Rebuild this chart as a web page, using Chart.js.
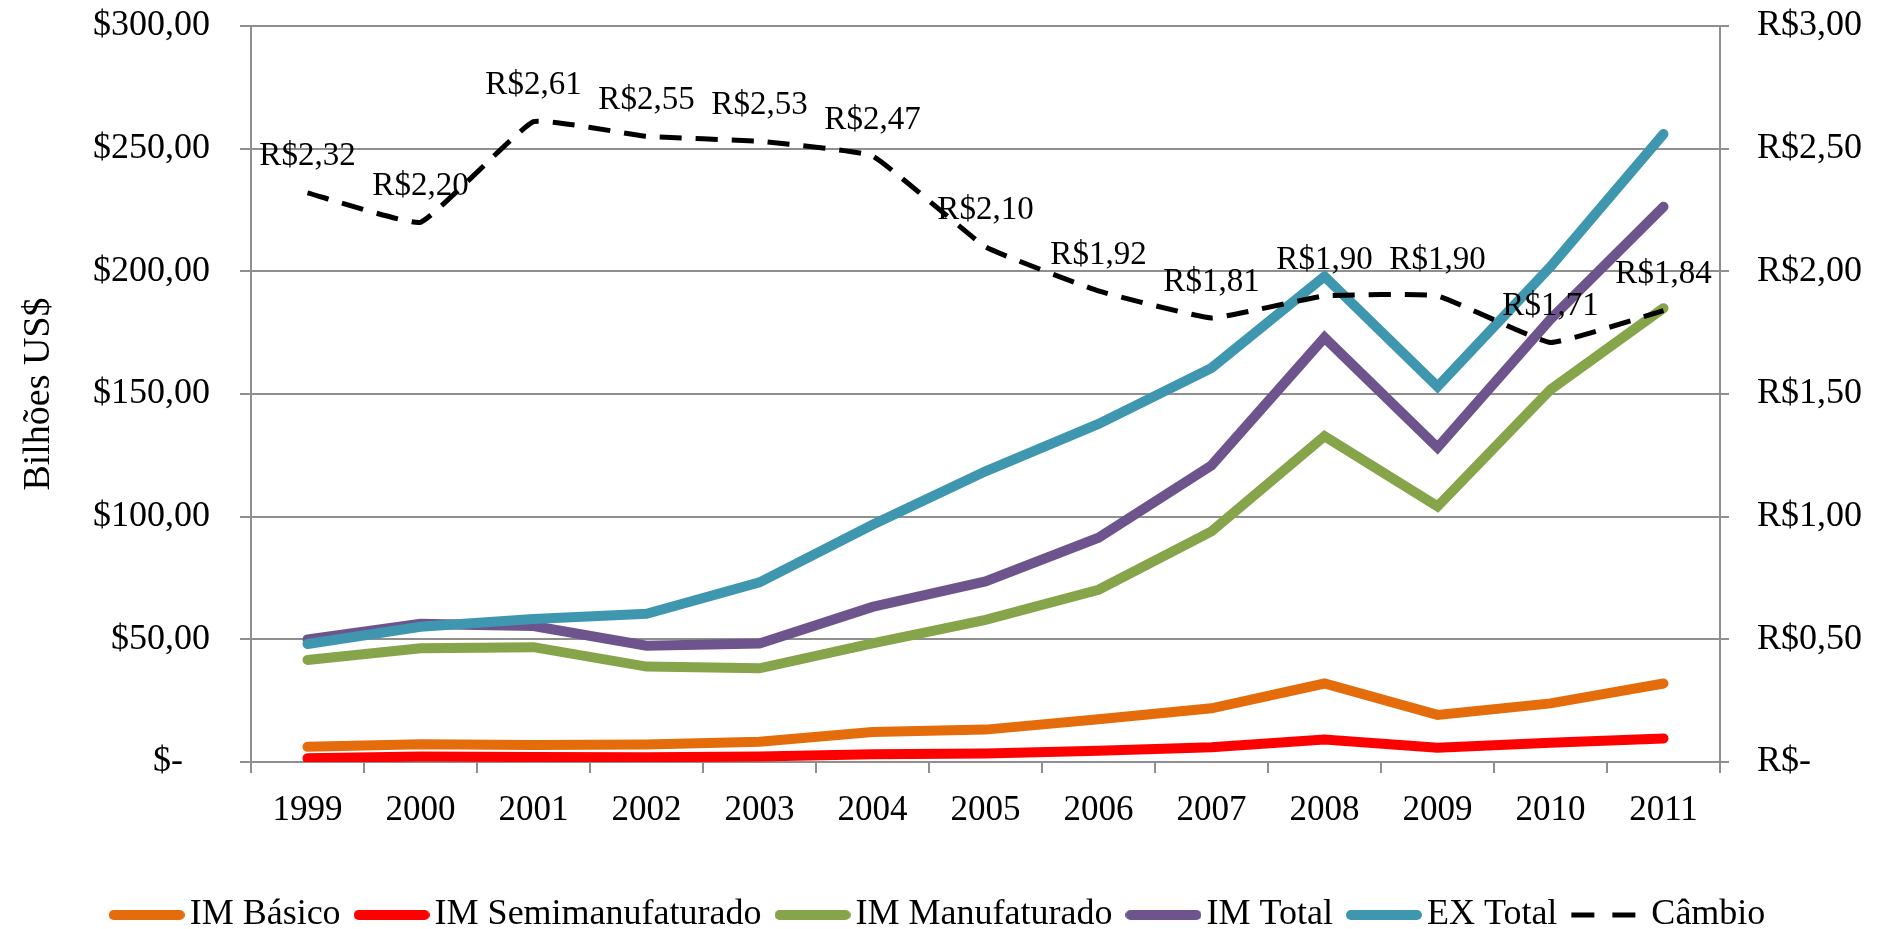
<!DOCTYPE html>
<html>
<head>
<meta charset="utf-8">
<script src="https://cdn.jsdelivr.net/npm/chart.js@4/dist/chart.umd.min.js"></script>
<style>
  html, body { margin: 0; padding: 0; background: #fff; }
  #wrap { width: 1887px; height: 929px; position: relative; }
</style>
</head>
<body>
<div id="wrap"><canvas id="tradeChart"></canvas></div>
<script>
// anos
const years = ['1999', '2000', '2001', '2002', '2003', '2004', '2005', '2006', '2007', '2008', '2009', '2010', '2011'];

// bilhões US$
const imBasico = [6.2, 7.2, 6.9, 7.1, 8.3, 12.2, 13.2, 17.4, 21.9, 32.0, 19.2, 23.9, 32.0];
const imSemi = [1.5, 2.2, 2.0, 1.9, 2.2, 3.2, 3.5, 4.6, 6.0, 9.2, 5.8, 7.8, 9.6];
const imManuf = [41.6, 46.4, 46.8, 38.9, 38.2, 48.4, 57.9, 70.2, 94.0, 132.8, 104.2, 151.8, 185.0];
const imTotal = [50.0, 56.3, 55.4, 47.4, 48.3, 63.2, 73.6, 91.4, 120.9, 173.0, 128.2, 180.5, 226.3];
const exTotal = [48.1, 55.1, 58.3, 60.4, 73.2, 96.7, 118.5, 137.8, 160.6, 197.9, 153.0, 201.9, 256.0];

// câmbio R$/US$
const cambio = [2.32, 2.20, 2.61, 2.55, 2.53, 2.47, 2.10, 1.92, 1.81, 1.90, 1.90, 1.71, 1.84];

const serif = 'Liberation Serif, "Times New Roman", serif';

function brl(v) {
  return v.toFixed(2).replace('.', ',');
}

// amostra da legenda desenhada num canvas pequeno (linha cheia ou tracejada)
function legendSample(color, width, dashed) {
  const c = document.createElement('canvas');
  c.width = 76;
  c.height = 12;
  const g = c.getContext('2d');
  g.strokeStyle = color;
  g.lineWidth = width;
  g.beginPath();
  if (dashed) {
    g.lineCap = 'butt';
    g.moveTo(1, 6); g.lineTo(24, 6);
    g.moveTo(42, 6); g.lineTo(65, 6);
  } else {
    g.lineCap = 'round';
    g.moveTo(5, 6); g.lineTo(71, 6);
  }
  g.stroke();
  return c;
}

// rótulos do câmbio acima de cada ponto
const cambioLabels = {
  id: 'cambioLabels',
  afterDatasetsDraw(chart) {
    const ctx = chart.ctx;
    const idx = chart.data.datasets.findIndex(d => d.label === 'Câmbio');
    const meta = chart.getDatasetMeta(idx);
    ctx.save();
    ctx.font = '33px ' + serif;
    ctx.fillStyle = '#000';
    ctx.textAlign = 'center';
    ctx.textBaseline = 'middle';
    meta.data.forEach((pt, i) => {
      ctx.fillText('R$' + brl(cambio[i]), pt.x, pt.y - 36);
    });
    ctx.restore();
  }
};

function line(label, data, color, order) {
  return {
    label: label,
    data: data,
    borderColor: color,
    backgroundColor: color,
    borderWidth: 10,
    borderCapStyle: 'round',
    borderJoinStyle: 'miter',
    pointRadius: 0,
    tension: 0,
    fill: false,
    yAxisID: 'y',
    order: order
  };
}

// fixa largura do eixo e a margem de topo
function fixY(width) {
  return function(scale) {
    scale.width = width;
    scale.paddingTop = 26;
    scale.paddingBottom = 0;
  };
}

const ctx = document.getElementById('tradeChart').getContext('2d');
new Chart(ctx, {
  type: 'line',
  data: {
    labels: years,
    datasets: [
      line('IM Básico', imBasico, '#E46C0A', 5),
      line('IM Semimanufaturado', imSemi, '#FF0000', 4),
      line('IM Manufaturado', imManuf, '#86A44A', 3),
      line('IM Total', imTotal, '#6E548D', 2),
      line('EX Total', exTotal, '#3F97AF', 1),
      {
        label: 'Câmbio',
        data: cambio,
        borderColor: '#000',
        backgroundColor: '#000',
        borderWidth: 5,
        borderDash: [22, 14],
        borderCapStyle: 'butt',
        pointRadius: 0,
        tension: 0.1,
        fill: false,
        yAxisID: 'y1',
        order: 0
      }
    ]
  },
  options: {
    responsive: true,
    maintainAspectRatio: false,
    animation: false,
    layout: { padding: { top: 0, left: 0, right: 0, bottom: -14 } },
    plugins: {
      tooltip: { enabled: false },
      legend: {
        position: 'bottom',
        labels: {
          usePointStyle: true,
          pointStyleWidth: 50,
          padding: 26,
          color: '#000',
          font: { family: serif, size: 36 },
          generateLabels: chart => chart.data.datasets.map((ds, i) => ({
            text: ds.label,
            datasetIndex: i,
            hidden: false,
            fontColor: '#000',
            fillStyle: ds.borderColor,
            strokeStyle: ds.borderColor,
            lineWidth: 0,
            pointStyle: legendSample(ds.borderColor, ds.borderWidth, !!ds.borderDash)
          }))
        }
      }
    },
    scales: {
      x: {
        offset: true,
        grid: {
          offset: true,
          drawOnChartArea: false,
          color: '#8f8f8f',
          lineWidth: 2,
          tickLength: 11
        },
        border: { color: '#8f8f8f', width: 2 },
        ticks: {
          color: '#000',
          padding: 17,
          font: { family: serif, size: 35 }
        },
        afterFit(scale) { scale.height = 109; }
      },
      y: {
        position: 'left',
        min: 0,
        max: 300,
        ticks: {
          stepSize: 50,
          color: '#000',
          padding: 30,
          font: { family: serif, size: 36 },
          callback: v => v === 0 ? '$-   ' : '$' + brl(v)
        },
        grid: { color: '#8f8f8f', lineWidth: 2, tickLength: 11 },
        border: { color: '#8f8f8f', width: 2 },
        title: {
          display: true,
          text: 'Bilhões US$',
          color: '#000',
          padding: { top: 16, bottom: 0 },
          font: { family: serif, size: 38 }
        },
        afterFit: fixY(251)
      },
      y1: {
        position: 'right',
        min: 0,
        max: 3,
        ticks: {
          stepSize: 0.5,
          color: '#000',
          padding: 28,
          font: { family: serif, size: 36 },
          callback: v => v === 0 ? 'R$-' : 'R$' + brl(v)
        },
        grid: { drawOnChartArea: false, color: '#8f8f8f', lineWidth: 2, tickLength: 9 },
        border: { color: '#8f8f8f', width: 2 },
        afterFit: fixY(167)
      }
    }
  },
  plugins: [cambioLabels]
});
</script>
</body>
</html>
